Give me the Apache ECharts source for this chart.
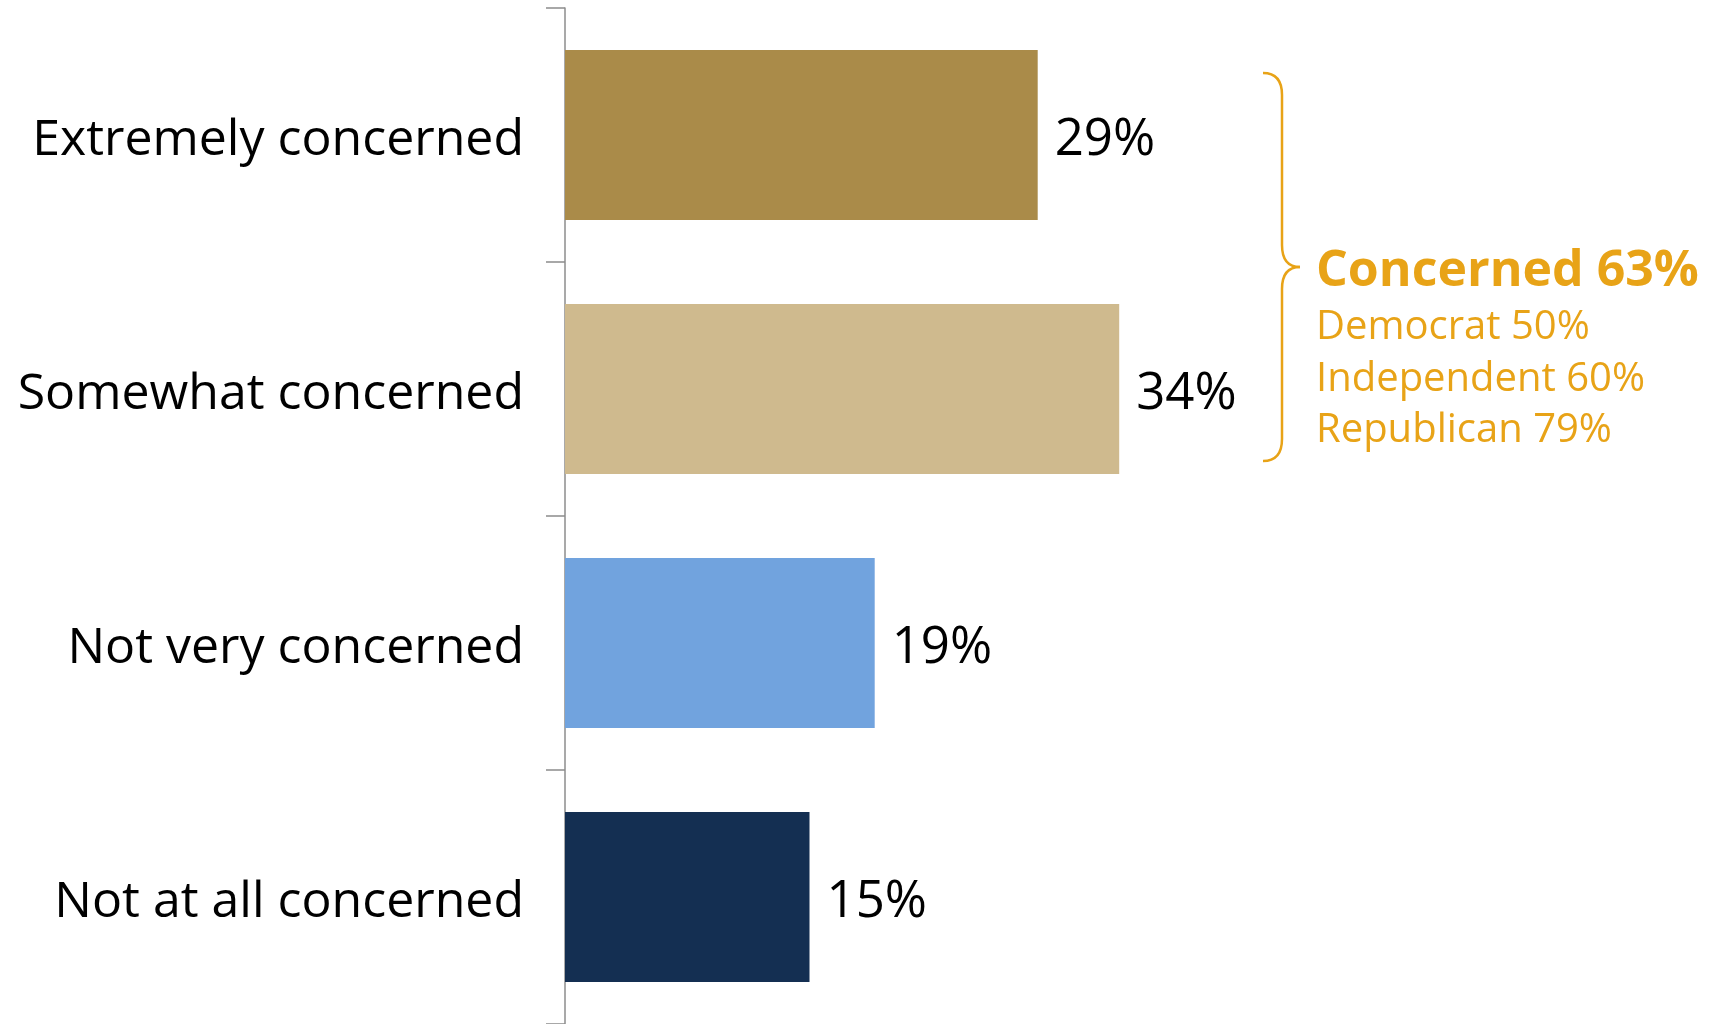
<!DOCTYPE html>
<html>
<head>
<meta charset="utf-8">
<script src="https://cdn.jsdelivr.net/npm/echarts@6/dist/echarts.min.js"></script>
<style>
html,body{margin:0;padding:0;background:#fff;}
#chart{width:1711px;height:1024px;}
</style>
</head>
<body>
<div id="chart"></div>
<script>
var categories = ['Extremely concerned', 'Somewhat concerned', 'Not very concerned', 'Not at all concerned'];
var values = [29, 34, 19, 15];
var barColors = ['#AA8B49', '#CFBA8E', '#71A3DE', '#142F52'];
var summaryTitle = 'Concerned 63%';
var summaryLines = ['Democrat 50%', 'Independent 60%', 'Republican 79%'];

var FONT = '"Open Sans", "Noto Sans", sans-serif';
var ORANGE = '#E8A317';

var chart = echarts.init(document.getElementById('chart'), null, {renderer: 'canvas'});

var option = {
  animation: false,
  backgroundColor: '#ffffff',
  grid: {left: 565, right: 5, top: 8, bottom: 0, containLabel: false},
  xAxis: {
    type: 'value', min: 0, max: 70,
    show: false
  },
  yAxis: {
    type: 'category',
    data: categories,
    inverse: true,
    axisLine: {show: true, lineStyle: {color: '#8C8C8C', width: 1.5}},
    axisTick: {show: true, length: 19, lineStyle: {color: '#8C8C8C', width: 1.5}},
    axisLabel: {
      margin: 41,
      color: '#000000',
      fontFamily: FONT,
      fontSize: 50,
      verticalAlign: 'top',
      lineHeight: 11
    },
    splitLine: {show: false}
  },
  series: [{
    type: 'bar',
    data: values.map(function (v, i) {
      return {value: v, itemStyle: {color: barColors[i]}};
    }),
    barCategoryGap: '33%',
    label: {
      show: true,
      position: 'right',
      distance: 17,
      color: '#000000',
      fontFamily: FONT,
      fontSize: 51,
      verticalAlign: 'top',
      lineHeight: 11,
      formatter: function (p) { return p.value + '%'; }
    }
  }]
};
chart.setOption(option);

// Annotation bracket spanning the first two categories
var yTop = chart.convertToPixel({yAxisIndex: 0}, categories[0]) - 62;
var yBot = chart.convertToPixel({yAxisIndex: 0}, categories[1]) + 72;
var yMid = (yTop + yBot) / 2;
var bx0 = 1263, bx1 = 1282, bx2 = 1300;
var r = 22;
var bs = {fill: null, stroke: ORANGE, lineWidth: 2.5};

function curve(x1, y1, cx, cy, x2, y2) {
  return {type: 'bezierCurve', shape: {x1: x1, y1: y1, cpx1: cx, cpy1: cy, x2: x2, y2: y2}, style: bs};
}
function seg(x1, y1, x2, y2) {
  return {type: 'line', shape: {x1: x1, y1: y1, x2: x2, y2: y2}, style: bs};
}

var graphics = [
  curve(bx0, yTop, bx1, yTop, bx1, yTop + r),
  seg(bx1, yTop + r, bx1, yMid - r),
  curve(bx1, yMid - r, bx1, yMid, bx2, yMid),
  curve(bx2, yMid, bx1, yMid, bx1, yMid + r),
  seg(bx1, yMid + r, bx1, yBot - r),
  curve(bx1, yBot - r, bx1, yBot, bx0, yBot),
  {
    type: 'text',
    x: 1316, y: yMid + 5,
    style: {text: summaryTitle, fill: ORANGE, font: 'bold 50px ' + FONT, verticalAlign: 'middle'}
  }
];
summaryLines.forEach(function (t, i) {
  graphics.push({
    type: 'text',
    x: 1316, y: yMid + 61 + i * 51.5,
    style: {text: t, fill: ORANGE, font: '40px ' + FONT, verticalAlign: 'middle'}
  });
});
chart.setOption({graphic: graphics});
</script>
</body>
</html>
